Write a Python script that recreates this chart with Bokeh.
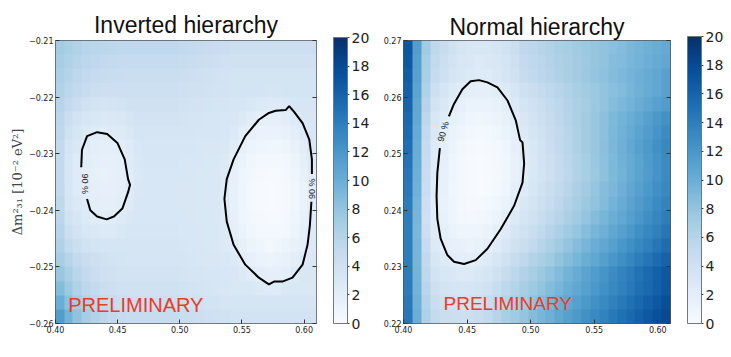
import math
import numpy as np
from bokeh.plotting import figure
from bokeh.models import (Range1d, FixedTicker, CustomJSTickFormatter, LinearColorMapper,
                          ColorBar, Label, LinearAxis)
from bokeh.layouts import row
from bokeh.palettes import Blues256
from bokeh.embed import file_html
from bokeh.resources import INLINE

# ---------------- data ----------------
x_ticks = [0.40, 0.45, 0.50, 0.55, 0.60]
ih_y_ticks = [-0.26, -0.25, -0.24, -0.23, -0.22, -0.21]
nh_y_ticks = [0.22, 0.23, 0.24, 0.25, 0.26, 0.27]
cbar_ticks = [0, 2, 4, 6, 8, 10, 12, 14, 16, 18, 20]

x_lo, x_hi = 0.40, 0.61
ih_y_lo, ih_y_hi = -0.26, -0.21
nh_y_lo, nh_y_hi = 0.22, 0.27

# Delta LLH: 20 rows (bottom -> top) x 30 columns (sin^2 0.40 -> 0.61)
ih_llh = [
    [11.5, 9.6, 8.2, 7.1, 6.3, 5.7, 5.3, 5.0, 4.8, 4.8, 4.8, 4.8, 4.8, 4.8, 4.7, 4.5, 4.4, 4.2, 4.1, 3.9, 3.8, 3.8, 3.8, 3.8, 3.8, 3.8, 3.8, 3.8, 3.8, 3.8],
    [10.0, 8.4, 7.2, 6.3, 5.6, 5.1, 4.8, 4.6, 4.4, 4.4, 4.4, 4.4, 4.4, 4.4, 4.3, 4.1, 4.0, 3.8, 3.7, 3.5, 3.4, 3.4, 3.4, 3.4, 3.4, 3.4, 3.4, 3.4, 3.4, 3.4],
    [8.8, 7.5, 6.4, 5.6, 5.1, 4.6, 4.3, 4.1, 4.0, 4.0, 4.0, 4.0, 4.0, 4.0, 3.9, 3.7, 3.6, 3.4, 3.3, 3.1, 3.0, 3.0, 3.0, 2.7, 2.6, 2.6, 2.9, 3.0, 3.0, 3.0],
    [7.8, 6.7, 5.8, 5.1, 4.6, 4.2, 4.0, 3.8, 3.7, 3.7, 3.7, 3.7, 3.7, 3.7, 3.6, 3.5, 3.4, 3.3, 3.3, 3.2, 3.1, 2.7, 2.3, 2.0, 1.8, 1.9, 2.1, 2.6, 3.1, 3.1],
    [7.0, 6.0, 5.3, 4.7, 4.3, 4.0, 3.8, 3.6, 3.5, 3.5, 3.5, 3.5, 3.5, 3.5, 3.4, 3.3, 3.2, 3.1, 3.1, 3.0, 2.8, 2.1, 1.7, 1.4, 1.2, 1.3, 1.5, 2.0, 2.6, 2.9],
    [6.4, 5.1, 4.4, 3.9, 3.6, 3.4, 3.5, 3.4, 3.4, 3.4, 3.4, 3.4, 3.4, 3.4, 3.3, 3.2, 3.1, 3.0, 2.9, 2.8, 2.3, 1.6, 1.2, 0.9, 0.7, 0.8, 1.1, 1.5, 2.1, 2.8],
    [6.0, 4.4, 3.7, 3.2, 2.9, 2.8, 2.8, 3.0, 3.25, 3.25, 3.25, 3.25, 3.25, 3.25, 3.2, 3.15, 3.1, 3.0, 3.0, 2.7, 1.9, 1.3, 0.8, 0.5, 0.4, 0.4, 0.7, 1.1, 1.8, 2.6],
    [5.7, 3.9, 3.2, 2.7, 2.4, 2.25, 2.3, 2.5, 2.9, 3.2, 3.2, 3.2, 3.2, 3.2, 3.15, 3.1, 3.0, 3.0, 2.9, 2.5, 1.7, 1.0, 0.6, 0.3, 0.15, 0.2, 0.45, 0.9, 1.5, 2.4],
    [5.5, 3.5, 2.85, 2.35, 2.0, 1.9, 1.9, 2.15, 2.55, 3.1, 3.15, 3.15, 3.15, 3.15, 3.1, 3.05, 3.0, 2.9, 2.9, 2.4, 1.6, 0.9, 0.45, 0.15, 0.02, 0.08, 0.3, 0.8, 1.4, 2.25],
    [5.3, 3.3, 2.65, 2.15, 1.8, 1.7, 1.7, 1.95, 2.35, 2.9, 3.15, 3.15, 3.15, 3.15, 3.1, 3.05, 3.0, 2.9, 2.9, 2.4, 1.6, 0.9, 0.45, 0.15, 0.02, 0.08, 0.3, 0.8, 1.4, 2.25],
    [5.2, 3.25, 2.55, 2.05, 1.75, 1.6, 1.65, 1.85, 2.25, 2.85, 3.2, 3.2, 3.2, 3.2, 3.15, 3.1, 3.0, 3.0, 2.9, 2.5, 1.7, 1.0, 0.6, 0.3, 0.15, 0.2, 0.45, 0.9, 1.5, 2.4],
    [5.2, 3.35, 2.65, 2.15, 1.85, 1.7, 1.75, 1.95, 2.35, 2.9, 3.25, 3.25, 3.25, 3.25, 3.2, 3.15, 3.1, 3.0, 3.0, 2.7, 1.9, 1.3, 0.8, 0.5, 0.4, 0.45, 0.7, 1.15, 1.8, 2.6],
    [5.3, 3.55, 2.9, 2.4, 2.05, 1.9, 1.95, 2.2, 2.55, 3.15, 3.35, 3.35, 3.35, 3.35, 3.3, 3.25, 3.2, 3.1, 3.1, 3.0, 2.3, 1.6, 1.2, 0.9, 0.75, 0.8, 1.05, 1.5, 2.15, 3.0],
    [5.5, 3.95, 3.25, 2.75, 2.45, 2.3, 2.35, 2.55, 2.95, 3.5, 3.5, 3.5, 3.5, 3.5, 3.45, 3.4, 3.35, 3.3, 3.25, 3.2, 2.8, 2.1, 1.65, 1.35, 1.25, 1.3, 1.55, 2.0, 2.65, 3.15],
    [5.7, 4.5, 3.8, 3.3, 3.0, 2.85, 2.9, 3.1, 3.5, 3.7, 3.7, 3.7, 3.7, 3.7, 3.6, 3.5, 3.4, 3.3, 3.25, 3.15, 3.1, 2.7, 2.25, 1.95, 1.85, 1.9, 2.15, 2.6, 3.1, 3.1],
    [6.0, 5.2, 4.5, 3.95, 3.65, 3.5, 3.55, 3.75, 3.95, 3.95, 3.95, 3.95, 3.95, 3.95, 3.85, 3.75, 3.7, 3.6, 3.5, 3.4, 3.35, 3.35, 3.0, 2.7, 2.55, 2.6, 2.85, 3.3, 3.35, 3.35],
    [6.3, 5.7, 5.25, 4.8, 4.45, 4.3, 4.35, 4.3, 4.25, 4.25, 4.25, 4.25, 4.25, 4.25, 4.15, 4.05, 4.0, 3.9, 3.8, 3.7, 3.65, 3.65, 3.65, 3.55, 3.4, 3.5, 3.65, 3.65, 3.65, 3.65],
    [6.6, 6.05, 5.6, 5.3, 5.05, 4.85, 4.75, 4.65, 4.6, 4.6, 4.6, 4.6, 4.6, 4.6, 4.45, 4.3, 4.15, 4.0, 3.85, 3.7, 3.6, 3.6, 3.6, 3.6, 3.6, 3.6, 3.6, 3.6, 3.6, 3.6],
    [6.9, 6.35, 5.95, 5.65, 5.4, 5.25, 5.15, 5.05, 5.0, 5.0, 5.0, 5.0, 5.0, 5.0, 4.85, 4.7, 4.55, 4.4, 4.25, 4.1, 4.0, 4.0, 4.0, 4.0, 4.0, 4.0, 4.0, 4.0, 4.0, 4.0],
    [7.2, 6.7, 6.3, 6.0, 5.8, 5.65, 5.55, 5.45, 5.4, 5.4, 5.4, 5.4, 5.4, 5.4, 5.25, 5.1, 4.95, 4.8, 4.65, 4.5, 4.4, 4.4, 4.4, 4.4, 4.4, 4.4, 4.4, 4.4, 4.4, 4.4],
]
nh_llh = [
    [14.6, 10.0, 6.5, 5.1, 4.6, 4.4, 4.3, 4.4, 4.7, 5.3, 6.0, 6.8, 7.4, 8.0, 8.7, 9.3, 9.9, 10.6, 11.2, 11.8, 12.5, 13.1, 13.7, 14.4, 15.0, 15.6, 16.2, 16.9, 17.5, 18.1],
    [14.4, 9.8, 6.1, 4.7, 4.2, 3.9, 3.8, 3.9, 4.2, 4.7, 5.3, 6.2, 6.8, 7.4, 8.1, 8.7, 9.3, 10.0, 10.6, 11.2, 11.9, 12.5, 13.1, 13.8, 14.4, 15.0, 15.7, 16.3, 16.9, 17.6],
    [14.2, 9.6, 5.8, 4.3, 3.8, 3.4, 3.3, 3.4, 3.6, 4.1, 4.7, 5.6, 6.2, 6.9, 7.5, 8.1, 8.7, 9.4, 10.0, 10.6, 11.3, 11.9, 12.5, 13.2, 13.8, 14.4, 15.1, 15.7, 16.3, 17.0],
    [14.1, 9.5, 5.5, 3.8, 3.2, 2.9, 2.7, 2.8, 3.0, 3.4, 4.1, 4.9, 5.6, 6.3, 6.9, 7.6, 8.2, 8.9, 9.6, 10.2, 10.9, 11.6, 12.2, 12.9, 13.6, 14.2, 14.9, 15.6, 16.2, 16.9],
    [14.0, 9.4, 5.2, 3.2, 2.6, 2.2, 2.0, 2.0, 2.2, 2.6, 3.2, 4.0, 4.8, 5.4, 6.1, 6.7, 7.4, 8.1, 8.7, 9.4, 10.1, 10.7, 11.4, 12.1, 12.7, 13.4, 14.1, 14.7, 15.4, 16.1],
    [14.0, 9.3, 4.8, 2.8, 2.1, 1.7, 1.5, 1.4, 1.6, 1.9, 2.4, 3.2, 4.0, 4.6, 5.3, 6.0, 6.6, 7.3, 8.0, 8.6, 9.3, 10.0, 10.6, 11.3, 12.0, 12.6, 13.3, 13.9, 14.6, 15.3],
    [14.0, 9.2, 4.4, 2.45, 1.8, 1.3, 1.0, 0.9, 1.0, 1.3, 1.8, 2.45, 3.3, 4.0, 4.6, 5.3, 6.0, 6.6, 7.3, 7.9, 8.6, 9.3, 9.9, 10.6, 11.3, 11.9, 12.6, 13.3, 13.9, 14.6],
    [14.1, 9.3, 4.2, 2.3, 1.55, 1.0, 0.7, 0.5, 0.6, 0.8, 1.2, 1.85, 2.7, 3.4, 4.0, 4.7, 5.4, 6.0, 6.7, 7.4, 8.0, 8.7, 9.4, 10.0, 10.7, 11.4, 12.0, 12.7, 13.4, 14.0],
    [14.2, 9.5, 4.3, 2.2, 1.45, 0.9, 0.5, 0.3, 0.3, 0.4, 0.8, 1.4, 2.15, 2.9, 3.6, 4.3, 4.9, 5.6, 6.3, 6.9, 7.6, 8.2, 8.9, 9.6, 10.2, 10.9, 11.6, 12.2, 12.9, 13.6],
    [14.4, 9.7, 4.5, 2.3, 1.5, 0.8, 0.4, 0.15, 0.07, 0.2, 0.5, 1.0, 1.8, 2.6, 3.2, 3.9, 4.6, 5.2, 5.9, 6.6, 7.2, 7.9, 8.6, 9.2, 9.9, 10.6, 11.2, 11.9, 12.6, 13.2],
    [14.6, 9.9, 4.7, 2.4, 1.6, 0.9, 0.4, 0.1, 0.0, 0.1, 0.3, 0.8, 1.5, 2.3, 3.0, 3.6, 4.3, 5.0, 5.6, 6.3, 7.0, 7.6, 8.3, 9.0, 9.6, 10.3, 11.0, 11.6, 12.3, 13.0],
    [14.8, 10.0, 4.8, 2.45, 1.65, 1.0, 0.5, 0.15, 0.04, 0.1, 0.4, 0.85, 1.5, 2.35, 3.0, 3.7, 4.3, 5.0, 5.7, 6.3, 7.0, 7.7, 8.3, 9.0, 9.7, 10.3, 11.0, 11.7, 12.3, 13.0],
    [15.1, 10.1, 5.0, 2.6, 1.8, 1.1, 0.6, 0.3, 0.2, 0.3, 0.5, 1.0, 1.7, 2.5, 3.2, 3.8, 4.5, 5.2, 5.8, 6.5, 7.2, 7.8, 8.5, 9.2, 9.8, 10.5, 11.2, 11.8, 12.5, 13.2],
    [15.4, 10.3, 5.3, 2.9, 2.1, 1.4, 0.9, 0.6, 0.45, 0.5, 0.8, 1.25, 1.9, 2.75, 3.4, 4.0, 4.65, 5.3, 5.9, 6.55, 7.2, 7.8, 8.4, 9.1, 9.7, 10.3, 11.0, 11.6, 12.2, 12.9],
    [15.7, 10.5, 5.6, 3.2, 2.4, 1.75, 1.25, 0.95, 0.8, 0.9, 1.15, 1.6, 2.3, 3.1, 3.7, 4.3, 4.9, 5.5, 6.05, 6.6, 7.2, 7.8, 8.4, 9.0, 9.6, 10.1, 10.7, 11.3, 11.9, 12.5],
    [16.0, 10.7, 6.0, 3.7, 2.9, 2.2, 1.7, 1.4, 1.3, 1.4, 1.6, 2.1, 2.8, 3.6, 4.1, 4.6, 5.1, 5.6, 6.1, 6.6, 7.1, 7.6, 8.1, 8.6, 9.1, 9.6, 10.1, 10.6, 11.1, 11.6],
    [16.2, 10.9, 6.4, 4.3, 3.5, 2.8, 2.3, 2.0, 1.9, 1.95, 2.2, 2.7, 3.3, 4.2, 4.6, 5.05, 5.5, 5.9, 6.3, 6.8, 7.2, 7.6, 8.1, 8.5, 8.9, 9.4, 9.8, 10.2, 10.7, 11.1],
    [16.5, 11.1, 6.8, 5.0, 4.2, 3.5, 3.0, 2.7, 2.6, 2.65, 2.9, 3.4, 4.0, 4.9, 5.3, 5.7, 6.0, 6.4, 6.8, 7.2, 7.6, 8.0, 8.35, 8.7, 9.1, 9.5, 9.9, 10.3, 10.7, 11.1],
    [16.8, 11.3, 7.0, 5.2, 4.4, 3.7, 3.2, 2.9, 2.8, 2.9, 3.1, 3.6, 4.3, 5.1, 5.45, 5.8, 6.1, 6.5, 6.8, 7.2, 7.5, 7.9, 8.2, 8.6, 8.9, 9.25, 9.6, 9.95, 10.3, 10.6],
    [17.0, 11.5, 7.3, 5.5, 4.7, 4.0, 3.5, 3.2, 3.1, 3.2, 3.4, 3.9, 4.6, 5.4, 5.7, 6.0, 6.3, 6.65, 7.0, 7.3, 7.6, 7.9, 8.2, 8.5, 8.8, 9.2, 9.5, 9.8, 10.1, 10.4],
]

# 90 % contours (open at the label gap)
ih_c1_x = [0.4207, 0.4213, 0.4254, 0.4335, 0.4416, 0.4498, 0.4557, 0.4584, 0.4600, 0.4584, 0.4538, 0.4470, 0.4411, 0.4335, 0.4280, 0.4254]
ih_c1_y = [-0.2324, -0.2293, -0.2269, -0.2262, -0.2265, -0.2281, -0.2310, -0.2345, -0.2355, -0.2368, -0.2397, -0.2411, -0.2416, -0.2411, -0.2400, -0.2380]
ih_c2_x = [0.6063, 0.6063, 0.6042, 0.5988, 0.5920, 0.5880, 0.5852, 0.5771, 0.5717, 0.5636, 0.5527, 0.5433, 0.5378, 0.5359, 0.5378, 0.5433, 0.5527, 0.5636, 0.5717, 0.5758, 0.5825, 0.5907, 0.5988, 0.6028, 0.6047, 0.6059]
ih_c2_y = [-0.2336, -0.2310, -0.2275, -0.2246, -0.2226, -0.2216, -0.2223, -0.2224, -0.2228, -0.2240, -0.2269, -0.2310, -0.2345, -0.2380, -0.2420, -0.2461, -0.2496, -0.2519, -0.2531, -0.2526, -0.2526, -0.2519, -0.2496, -0.2461, -0.2426, -0.2385]
nh_c_x = [0.4357, 0.4397, 0.4463, 0.4528, 0.4594, 0.4660, 0.4739, 0.4818, 0.4883, 0.4917, 0.4936, 0.4949, 0.4936, 0.4870, 0.4765, 0.4660, 0.4568, 0.4476, 0.4397, 0.4345, 0.4292, 0.4266, 0.4260, 0.4266, 0.4286]
nh_c_y = [0.2566, 0.2588, 0.2614, 0.2628, 0.2630, 0.2626, 0.2617, 0.2594, 0.2559, 0.2524, 0.2520, 0.2483, 0.2449, 0.2408, 0.2367, 0.2332, 0.2312, 0.2305, 0.2309, 0.2321, 0.2350, 0.2385, 0.2425, 0.2466, 0.2510]

ih_label_x = [0.4240, 0.6063]
ih_label_y = [-0.2353, -0.2362]
ih_label_angle = [-90, 90]
nh_label_x = [0.4313]
nh_label_y = [0.2539]
nh_label_angle = [74]
contour_text = "90 %"

# ---------------- styling helpers ----------------
mapper = LinearColorMapper(palette=tuple(reversed(Blues256)), low=0, high=20)
fmt = CustomJSTickFormatter(code="return tick.toFixed(2).replace('-', '\u2212');")
blank_fmt = CustomJSTickFormatter(code="return '';")


def tick_axis(ticks):
    return LinearAxis(ticker=FixedTicker(ticks=ticks), formatter=blank_fmt, axis_line_color=None,
                      major_tick_in=4, major_tick_out=0, major_tick_line_color="#333333",
                      minor_tick_line_color=None, major_label_standoff=0)


def style(p, title_standoff, y_ticks):
    p.grid.visible = False
    p.outline_line_color = "#555555"
    p.outline_line_width = 1
    for ax in (p.xaxis[0], p.yaxis[0]):
        ax.axis_line_color = None
        ax.major_tick_in = 4
        ax.major_tick_out = 0
        ax.minor_tick_line_color = None
        ax.major_tick_line_color = "#333333"
        ax.major_label_text_font = "DejaVu Sans"
        ax.major_label_text_font_size = "8px"
        ax.major_label_text_color = "#222222"
        ax.major_label_standoff = 2
        ax.formatter = fmt
    p.xaxis.ticker = FixedTicker(ticks=x_ticks)
    p.yaxis.ticker = FixedTicker(ticks=y_ticks)
    p.add_layout(tick_axis(y_ticks), "right")
    p.title.align = "center"
    p.title.text_font = "Liberation Sans"
    p.title.text_font_size = "23px"
    p.title.text_font_style = "normal"
    p.title.text_color = "#111111"
    p.title.standoff = title_standoff


def add_cbar(p, x_off, h, lbl_x, lbl_y, xl_x, xl_y):
    cb = ColorBar(color_mapper=mapper, ticker=FixedTicker(ticks=cbar_ticks), width=14, height=h,
                  location=(x_off, 0), padding=0, margin=0, label_standoff=2,
                  major_label_text_font="DejaVu Sans", major_label_text_font_size="14px",
                  major_label_text_color="#222222", bar_line_color="#777777",
                  major_tick_line_color="#444444", major_tick_in=0, major_tick_out=2,
                  background_fill_alpha=0, border_line_color=None)
    p.add_layout(cb)
    p.add_layout(Label(x=lbl_x, y=lbl_y, x_units="screen", y_units="screen", text="\u0394 LLH",
                       angle=math.pi / 2, text_font="DejaVu Sans", text_font_size="7px",
                       text_color="#333333", text_align="center", text_baseline="middle"))
    p.add_layout(Label(x=xl_x, y=xl_y, x_units="screen", y_units="screen",
                       text="sin\u00b2 (\u03b8\u2082\u2083)", text_font="DejaVu Serif",
                       text_font_size="12px", text_color="#222222",
                       text_align="center", text_baseline="middle"))


# ---------------- Inverted hierarchy ----------------
p1 = figure(width=375, height=357, x_range=Range1d(x_lo, x_hi), y_range=Range1d(ih_y_lo, ih_y_hi),
            output_backend="svg", toolbar_location=None, title="Inverted hierarchy",
            min_border_left=55, min_border_right=59, min_border_top=40, min_border_bottom=31)
style(p1, 5, ih_y_ticks)
p1.yaxis[0].axis_label = "\u0394m\u00b2\u2083\u2081 [10\u207b\u00b2 eV\u00b2]"
p1.yaxis[0].axis_label_text_font = "DejaVu Serif"
p1.yaxis[0].axis_label_text_font_style = "normal"
p1.yaxis[0].axis_label_text_font_size = "13px"
p1.yaxis[0].axis_label_standoff = 1
p1.image(image=[np.array(ih_llh)], x=x_lo, y=ih_y_lo, dw=x_hi - x_lo, dh=ih_y_hi - ih_y_lo,
         color_mapper=mapper)
p1.line(ih_c1_x, ih_c1_y, line_color="black", line_width=2)
p1.line(ih_c2_x, ih_c2_y, line_color="black", line_width=2)
p1.text(x=ih_label_x, y=ih_label_y, text=[contour_text] * 2,
        angle=[math.radians(a) for a in ih_label_angle],
        text_align="center", text_baseline="middle", text_font_size="9px", text_color="#222222")
p1.add_layout(Label(x=0.4102, y=-0.2568, text="PRELIMINARY", text_font="Liberation Sans",
                    text_font_size="20px", text_color="#ee3b24", text_baseline="middle"))
add_cbar(p1, 278, 286, 314, 136, 129, -21)

# ---------------- Normal hierarchy ----------------
p2 = figure(width=356, height=357, x_range=Range1d(x_lo, x_hi), y_range=Range1d(nh_y_lo, nh_y_hi),
            output_backend="svg", toolbar_location=None, title="Normal hierarchy",
            min_border_left=28, min_border_right=61, min_border_top=36, min_border_bottom=34)
style(p2, 2, nh_y_ticks)
p2.image(image=[np.array(nh_llh)], x=x_lo, y=nh_y_lo, dw=x_hi - x_lo, dh=nh_y_hi - nh_y_lo,
         color_mapper=mapper)
p2.line(nh_c_x, nh_c_y, line_color="black", line_width=2)
p2.text(x=nh_label_x, y=nh_label_y, text=[contour_text],
        angle=[math.radians(a) for a in nh_label_angle],
        text_align="center", text_baseline="middle", text_font_size="9px", text_color="#222222")
p2.add_layout(Label(x=0.4315, y=0.2236, text="PRELIMINARY", text_font="Liberation Sans",
                    text_font_size="19px", text_color="#ee3b24", text_baseline="middle"))
add_cbar(p2, 284, 287, 322, 136, 134, -20)

layout = row(p1, p2)
open("out.html", "w").write(file_html(layout, INLINE))
